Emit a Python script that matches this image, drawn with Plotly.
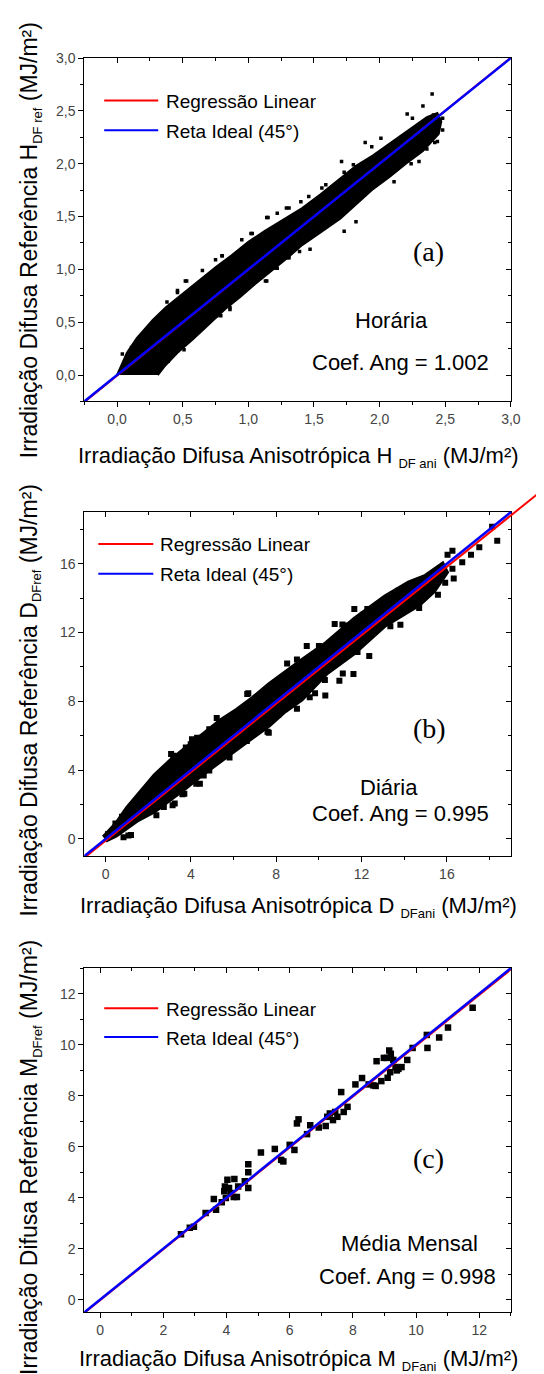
import plotly.graph_objects as go

W, H = 544, 1374

# ---------------- (a) Horária ----------------
A_TICKS = [0.0, 0.5, 1.0, 1.5, 2.0, 2.5, 3.0]
A_LABELS = ['0,0', '0,5', '1,0', '1,5', '2,0', '2,5', '3,0']
# contorno da nuvem densa de pontos horários
A_CORE_X = [0.00, 0.03, 0.075, 0.15, 0.27, 0.37, 0.50, 0.62, 0.75, 0.87, 1.00, 1.12, 1.25, 1.41,
            1.55, 1.70, 1.82, 1.95, 2.10, 2.25, 2.36, 2.44, 2.47, 2.45, 2.33, 2.20, 2.08, 1.95, 1.82,
            1.70, 1.55, 1.41, 1.29, 1.17, 1.05, 0.94, 0.82, 0.70, 0.58, 0.46, 0.36, 0.31]
A_CORE_Y = [0.00, 0.09, 0.21, 0.35, 0.52, 0.64, 0.77, 0.89, 1.02, 1.13, 1.26, 1.36, 1.46, 1.58,
            1.71, 1.86, 1.98, 2.08, 2.21, 2.34, 2.44, 2.48, 2.40, 2.28, 2.12, 2.00, 1.88, 1.76, 1.61,
            1.48, 1.35, 1.23, 1.10, 0.98, 0.86, 0.74, 0.62, 0.48, 0.34, 0.21, 0.08, 0.00]
A_OUT_X = [2.40, 2.33, 2.21, 2.42, 2.24, 1.71, 1.89, 1.31, 1.14, 1.02, 0.80, 0.65, 0.52, 0.46, 1.39,
           1.31, 1.21, 1.14, 0.86, 0.76, 0.51, 0.36, 0.26, 2.11, 2.04, 1.56, 1.80, 1.46, 0.04, 0.11,
           2.41, 2.48, 2.48, 2.36, 2.30, 0.38, 0.46, 0.53, 0.75, 0.80, 0.95, 1.03, 1.15, 1.22, 1.29,
           0.39, 0.46, 0.65, 0.79, 0.86, 1.04, 1.13, 1.22, 1.30, 1.40, 1.47, 1.59, 1.73, 1.94, 2.01,
           2.25, 1.46, 1.73, 1.82, 2.11, 2.30, 2.44]
A_OUT_Y = [2.66, 2.545, 2.47, 2.20, 2.00, 2.02, 2.20, 1.58, 1.49, 1.34, 1.13, 0.99, 0.89, 0.80, 1.17,
           1.11, 1.01, 0.89, 0.62, 0.56, 0.24, 0.13, 0.04, 1.94, 1.89, 1.77, 1.99, 1.69, 0.20, 0.26,
           2.46, 2.43, 2.32, 2.14, 2.30, 0.69, 0.78, 0.89, 1.09, 1.13, 1.28, 1.34, 1.49, 1.53, 1.58,
           0.13, 0.23, 0.45, 0.56, 0.64, 0.87, 0.89, 1.01, 1.11, 1.64, 1.19, 1.80, 1.92, 2.16, 2.24,
           2.43, 1.52, 1.36, 1.45, 1.83, 2.02, 2.21]
A_IDEAL = [-0.25, 3.0]
A_REG_X = [-0.25, 3.0]
A_REG_Y = [-0.256, 3.004]

# ---------------- (b) Diária ----------------
B_TICKS = [0, 4, 8, 12, 16]
B_LABELS = ['0', '4', '8', '12', '16']
B_CORE_X = [-0.1, 0.5, 1.0, 1.53, 2.3, 3.07, 3.8, 4.6, 5.4, 6.14, 6.9, 7.67, 8.4, 9.2, 10.35, 11.66,
            13.1, 14.2, 15.0, 15.8, 16.0, 15.4, 14.7, 13.1, 11.66, 10.35, 9.2, 8.4, 7.67, 6.9, 6.14,
            5.4, 4.6, 3.8, 3.07, 2.3, 1.53, 1.0, 0.5, 0.0]
B_CORE_Y = [0.1, 0.9, 1.8, 2.6, 3.7, 4.6, 5.3, 6.1, 6.9, 7.5, 8.2, 9.0, 9.7, 10.4, 11.4, 12.8,
            14.1, 14.9, 15.3, 16.0, 15.5, 14.4, 13.6, 12.4, 10.8, 9.6, 8.1, 7.4, 6.6, 5.9, 5.2,
            4.5, 3.8, 3.0, 2.3, 1.6, 1.1, 0.6, 0.2, -0.1]
B_OUT_X = [18.36, 18.12, 17.52, 17.13, 16.72, 16.26, 16.03, 16.26, 15.92, 15.26, 13.12, 10.74, 11.20,
           13.35, 11.81, 11.12, 10.28, 9.82, 9.43, 8.51, 8.97, 8.97, 7.59, 6.64, 5.75, 4.60, 4.25,
           3.60, 3.14, 2.38, 1.07, 0.84, 0.77, 0.46, 0.12, 3.07, 3.99, 4.29, 5.21, 11.66, 12.27, 13.73,
           1.19, 1.63, 2.14, 2.73, 3.24, 3.69, 4.42, 3.17, 3.76, 4.05, 4.86, 5.89, 6.69, 7.65, 8.10,
           7.65, 6.62, 5.81, 4.86, 10.00, 11.10, 12.06, 12.64, 13.53, 14.19, 15.00, 11.62, 10.96,
           10.30, 12.36, 13.82, 14.70, 15.58, 16.32, 9.57]
B_OUT_Y = [17.33, 18.15, 16.95, 16.52, 16.08, 16.75, 16.52, 15.70, 14.89, 14.70, 13.88, 12.50, 12.40,
           12.36, 10.87, 9.62, 9.24, 8.47, 11.21, 10.20, 10.43, 7.57, 6.23, 8.43, 4.83, 3.68, 3.20,
           2.59, 1.96, 1.38, 0.19, 0.10, 1.28, 0.90, 0.29, 4.93, 5.50, 5.88, 7.03, 13.36, 13.36, 14.42,
           0.23, 1.48, 2.82, 1.86, 2.05, 2.63, 3.20, 4.83, 5.31, 5.79, 6.37, 7.03, 8.47, 8.28, 7.23,
           6.17, 5.69, 4.73, 3.97, 11.21, 12.46, 13.03, 13.32, 13.90, 14.38, 15.05, 9.59, 9.20,
           8.34, 10.64, 12.45, 13.42, 14.19, 15.14, 8.24]
B_IDEAL = [-1.0, 19.0]
B_REG_X = [-1.0, 20.5]
B_REG_Y = [-1.1, 20.3]

# ---------------- (c) Média mensal ----------------
C_TICKS = [0, 2, 4, 6, 8, 10, 12]
C_LABELS = ['0', '2', '4', '6', '8', '10', '12']
C_X = [2.56, 2.84, 2.97, 3.34, 3.60, 3.67, 3.85, 3.93, 3.95, 3.98, 4.03, 4.08, 4.13, 4.23, 4.25,
       4.33, 4.37, 4.58, 4.69, 4.69, 4.69, 5.09, 5.53, 5.73, 5.80, 6.00, 6.15, 6.23, 6.28, 6.55,
       6.65, 6.92, 7.14, 7.19, 7.27, 7.37, 7.44, 7.51, 7.63, 7.71, 7.83, 8.08, 8.29, 8.50, 8.65,
       8.72, 8.75, 8.90, 8.98, 9.08, 9.10, 9.15, 9.18, 9.20, 9.28, 9.35, 9.39, 9.44, 9.54, 9.72,
       9.89, 10.34, 10.36, 10.73, 11.01, 11.79]
C_Y = [2.56, 2.82, 2.86, 3.40, 3.95, 3.53, 3.82, 4.25, 4.44, 3.99, 4.70, 4.38, 4.18, 4.03, 4.73,
       4.03, 4.44, 4.64, 4.38, 5.00, 5.31, 5.77, 5.91, 5.48, 5.42, 6.07, 5.87, 6.91, 7.07, 6.49,
       6.84, 6.75, 6.81, 7.17, 7.30, 7.04, 7.36, 7.17, 8.14, 7.36, 7.56, 8.44, 8.69, 8.44, 8.40,
       8.38, 9.35, 8.57, 9.48, 9.48, 8.70, 9.77, 8.92, 9.64, 9.40, 9.12, 8.99, 9.05, 9.12, 9.40,
       9.87, 10.38, 9.87, 10.28, 10.67, 11.45]
C_IDEAL = [-0.5, 13.0]
C_REG_X = [-0.5, 13.0]
C_REG_Y = [-0.52, 12.95]

# geometria (pixels)
FRAME_L, FRAME_R = 77.7, 512.3
FONT = 'Liberation Sans, Arial, sans-serif'


def px(x):
    return x / W


def py(y):
    return 1 - y / H


def aid(letter, n):
    return letter if n == 1 else f'{letter}{n}'


panels = [
    dict(top=42.3, bot=387.7, rng=[-0.25, 3.0], ticks=A_TICKS, labels=A_LABELS, minor=0.25),
    dict(top=499.0, bot=845.0, rng=[-1, 19], ticks=B_TICKS, labels=B_LABELS, minor=2),
    dict(top=957.7, bot=1304.0, rng=[-0.5, 13], ticks=C_TICKS, labels=C_LABELS, minor=1),
]

fig = go.Figure()
layout = {}

for i, p in enumerate(panels):
    n = i + 1
    m = i + 4
    common = dict(range=p['rng'], showgrid=False, zeroline=False, showline=True,
                  linecolor='black', linewidth=1, tickcolor='black', tickwidth=1,
                  tickmode='array', tickvals=p['ticks'])
    layout['xaxis' + ('' if n == 1 else str(n))] = dict(
        common, domain=[px(FRAME_L), px(FRAME_R)], anchor=aid('y', n),
        ticks='outside', ticklen=5, ticktext=p['labels'],
        tickfont=dict(size=14, color='#444', family=FONT),
        minor=dict(tickmode='linear', tick0=0, dtick=p['minor'], ticks='outside',
                   ticklen=3, tickcolor='black', showgrid=False))
    layout['yaxis' + ('' if n == 1 else str(n))] = dict(
        common, domain=[py(p['bot']), py(p['top'])], anchor=aid('x', n),
        ticks='outside', ticklen=5, ticktext=p['labels'],
        tickfont=dict(size=14, color='#444', family=FONT),
        minor=dict(tickmode='linear', tick0=0, dtick=p['minor'], ticks='outside',
                   ticklen=3, tickcolor='black', showgrid=False))
    # eixos espelhados (topo / direita) com marcas para dentro
    layout[f'xaxis{m}'] = dict(
        common, overlaying=aid('x', n), side='top', anchor=aid('y', n),
        ticks='inside', ticklen=5, showticklabels=False,
        minor=dict(tickmode='linear', tick0=0, dtick=p['minor'], ticks='inside',
                   ticklen=3, tickcolor='black', showgrid=False))
    layout[f'yaxis{m}'] = dict(
        common, overlaying=aid('y', n), side='right', anchor=aid('x', n),
        ticks='inside', ticklen=5, showticklabels=False,
        minor=dict(tickmode='linear', tick0=0, dtick=p['minor'], ticks='inside',
                   ticklen=3, tickcolor='black', showgrid=False))
    fig.add_trace(go.Scatter(x=[], y=[], xaxis=aid('x', m), yaxis=aid('y', n),
                             showlegend=False, hoverinfo='skip'))
    fig.add_trace(go.Scatter(x=[], y=[], xaxis=aid('x', n), yaxis=aid('y', m),
                             showlegend=False, hoverinfo='skip'))

# eixo estendido para a reta de regressão de (b), que ultrapassa a moldura
b = panels[1]
ux = (b['rng'][1] - b['rng'][0]) / (FRAME_R - FRAME_L)
uy = (b['rng'][1] - b['rng'][0]) / (b['bot'] - b['top'])
EXT_TOP = 468
layout['xaxis7'] = dict(domain=[px(FRAME_L), 1.0], anchor='y7', visible=False,
                        range=[b['rng'][0], b['rng'][0] + (W - FRAME_L) * ux])
layout['yaxis7'] = dict(domain=[py(b['bot']), py(EXT_TOP)], anchor='x7', visible=False,
                        range=[b['rng'][0], b['rng'][0] + (b['bot'] - EXT_TOP) * uy])


def cloud(xs, ys, xa, ya, lw):
    return go.Scatter(x=xs, y=ys, xaxis=xa, yaxis=ya, mode='lines', fill='toself',
                      fillcolor='black', line=dict(color='black', width=lw),
                      showlegend=False, hoverinfo='skip')


def pts(xs, ys, xa, ya, size):
    return go.Scatter(x=xs, y=ys, xaxis=xa, yaxis=ya, mode='markers',
                      marker=dict(symbol='square', size=size, color='black', line=dict(width=0)),
                      showlegend=False, hoverinfo='skip')


def line(xs, ys, xa, ya, color, w):
    return go.Scatter(x=xs, y=ys, xaxis=xa, yaxis=ya, mode='lines',
                      line=dict(color=color, width=w), showlegend=False, hoverinfo='skip')


# (a)
fig.add_trace(cloud(A_CORE_X, A_CORE_Y, 'x', 'y', 2))
fig.add_trace(pts(A_OUT_X, A_OUT_Y, 'x', 'y', 3.5))
fig.add_trace(line(A_REG_X, A_REG_Y, 'x', 'y', 'red', 2))
fig.add_trace(line(A_IDEAL, A_IDEAL, 'x', 'y', 'blue', 2.5))
# (b)
fig.add_trace(cloud(B_CORE_X, B_CORE_Y, 'x2', 'y2', 4))
fig.add_trace(pts(B_OUT_X, B_OUT_Y, 'x2', 'y2', 6))
fig.add_trace(line(B_REG_X, B_REG_Y, 'x7', 'y7', 'red', 2))
fig.add_trace(line(B_IDEAL, B_IDEAL, 'x7', 'y7', 'blue', 2.5))
# (c)
fig.add_trace(pts(C_X, C_Y, 'x3', 'y3', 6.5))
fig.add_trace(line(C_REG_X, C_REG_Y, 'x3', 'y3', 'red', 2))
fig.add_trace(line(C_IDEAL, C_IDEAL, 'x3', 'y3', 'blue', 2.5))

SUB = '<sub><span style="font-size:13px">{}</span></sub>'
annotations = []
shapes = []


def note(x, y, text, size=22, family=FONT, angle=0):
    annotations.append(dict(x=px(x), y=py(y), xref='paper', yref='paper', text=text,
                            showarrow=False, xanchor='center', yanchor='middle',
                            textangle=angle, font=dict(size=size, color='black', family=family)))


info = [
    dict(yt=226, xt=444, sym='H', ysub='DF ref', xsub='DF ani', letter='(a)', lpos=(428, 237),
         t1=('Horária', 391, 306), t2=('Coef. Ang = 1.002', 399.5, 349),
         leg=(85, 115, 98, 153, 159)),
    dict(yt=688, xt=896, sym='D', ysub='DFref', xsub='DFani', letter='(b)', lpos=(429, 717),
         t1=('Diária', 388, 776), t2=('Coef. Ang = 0.995', 399.5, 802),
         leg=(531, 561, 92, 148, 153)),
    dict(yt=1148, xt=1352, sym='M', ysub='DFref', xsub='DFani', letter='(c)', lpos=(428, 1149),
         t1=('Média Mensal', 409, 1235), t2=('Coef. Ang = 0.998', 407, 1268),
         leg=(998, 1027, 98, 153, 159)),
]

for d in info:
    note(23, d['yt'], 'Irradiação Difusa Referência ' + d['sym'] + SUB.format(d['ysub']) + ' (MJ/m²)',
         size=23, angle=-90)
    note(296, d['xt'], 'Irradiação Difusa Anisotrópica ' + d['sym'] + ' ' + SUB.format(d['xsub'])
         + ' (MJ/m²)', size=22)
    note(d['lpos'][0], d['lpos'][1], d['letter'], size=28,
         family='Liberation Serif, Times New Roman, serif')
    note(d['t1'][1], d['t1'][2], d['t1'][0])
    note(d['t2'][1], d['t2'][2], d['t2'][0])
    yr, yb, x0, x1, xt = d['leg']
    for yy, col, txt in [(yr, 'red', 'Regressão Linear'), (yb, 'blue', 'Reta Ideal (45°)')]:
        shapes.append(dict(type='line', xref='paper', yref='paper', x0=px(x0), x1=px(x1),
                           y0=py(yy), y1=py(yy), line=dict(color=col, width=2)))
        annotations.append(dict(x=px(xt), y=py(yy + 1), xref='paper', yref='paper', text=txt,
                                showarrow=False, xanchor='left', yanchor='middle',
                                font=dict(size=19, color='black', family=FONT)))

fig.update_layout(
    width=W, height=H, autosize=False,
    margin=dict(l=0, r=0, t=0, b=0),
    paper_bgcolor='white', plot_bgcolor='rgba(0,0,0,0)',
    font=dict(family=FONT, color='black'),
    showlegend=False,
    annotations=annotations, shapes=shapes,
    **layout
)

fig.write_html('out.html')
